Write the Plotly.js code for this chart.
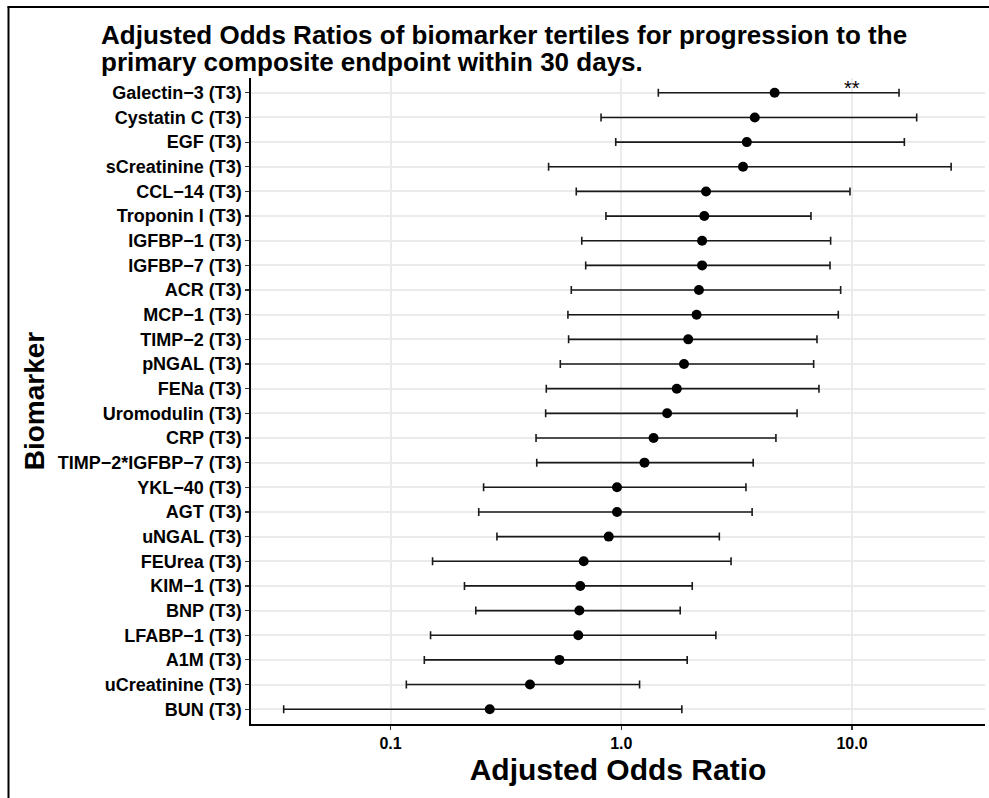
<!DOCTYPE html>
<html>
<head>
<meta charset="utf-8">
<script src="https://cdn.plot.ly/plotly-3.0.1.min.js"></script>
<style>
html,body{margin:0;padding:0;background:#fff;overflow:hidden;}
#chart{width:989px;height:798px;}
</style>
</head>
<body>
<div id="chart"></div>
<script>
// Biomarkers (top to bottom)
var biomarkers = [
  "Galectin\u22123 (T3)", "Cystatin C (T3)", "EGF (T3)", "sCreatinine (T3)", "CCL\u221214 (T3)",
  "Troponin I (T3)", "IGFBP\u22121 (T3)", "IGFBP\u22127 (T3)", "ACR (T3)", "MCP\u22121 (T3)",
  "TIMP\u22122 (T3)", "pNGAL (T3)", "FENa (T3)", "Uromodulin (T3)", "CRP (T3)",
  "TIMP\u22122*IGFBP\u22127 (T3)", "YKL\u221240 (T3)", "AGT (T3)", "uNGAL (T3)", "FEUrea (T3)",
  "KIM\u22121 (T3)", "BNP (T3)", "LFABP\u22121 (T3)", "A1M (T3)", "uCreatinine (T3)", "BUN (T3)"
];
// Adjusted odds ratios
var oddsRatio = [4.62, 3.79, 3.50, 3.37, 2.33, 2.29, 2.24, 2.24, 2.17, 2.12,
                 1.95, 1.87, 1.74, 1.58, 1.38, 1.26, 0.958, 0.958, 0.882, 0.687,
                 0.664, 0.658, 0.651, 0.539, 0.402, 0.269];
// Lower 95% CI
var ciLower = [1.447, 0.817, 0.946, 0.484, 0.638, 0.858, 0.674, 0.701, 0.607, 0.587,
               0.591, 0.544, 0.473, 0.470, 0.427, 0.430, 0.253, 0.241, 0.289, 0.152,
               0.209, 0.234, 0.149, 0.140, 0.117, 0.0344];
// Upper 95% CI
var ciUpper = [15.99, 19.07, 16.86, 26.9, 9.80, 6.64, 8.08, 8.03, 8.93, 8.72,
               7.05, 6.82, 7.19, 5.78, 4.68, 3.73, 3.47, 3.69, 2.66, 2.99,
               2.03, 1.80, 2.57, 1.93, 1.20, 1.83];
// Significance marker
var sigLabel = "**";
var sigBiomarker = "Galectin\u22123 (T3)";
var sigX = 10;
var refLine = 1;
var tickVals = [0.1, 1, 10];
var tickText = ["0.1", "1.0", "10.0"];
var titleLines = [
  "Adjusted Odds Ratios of biomarker tertiles for progression to the",
  "primary composite endpoint within 30 days."
];

var errPlus = oddsRatio.map(function(v, i){ return ciUpper[i] - v; });
var errMinus = oddsRatio.map(function(v, i){ return v - ciLower[i]; });

var FONT = "Liberation Sans, Arial, Helvetica, sans-serif";

var trace = {
  type: "scatter",
  mode: "markers",
  x: oddsRatio,
  y: biomarkers,
  marker: {color: "#000000", size: 10},
  error_x: {
    type: "data", symmetric: false,
    array: errPlus, arrayminus: errMinus,
    color: "#1a1a1a", thickness: 1.6, width: 4
  },
  hoverinfo: "x+y",
  showlegend: false
};

var L = 251, R = 985, T = 77.5, B = 724;
function px(x){ return (x - L) / (R - L); }
function py(y){ return (B - y) / (B - T); }

var annotations = [
  {x: Math.log10(sigX), y: sigBiomarker, xref: "x", yref: "y", text: sigLabel,
   showarrow: false, yshift: 5, font: {family: FONT, size: 20, color: "#000000"}}
];
var titleCenters = [34.5, 61];
titleLines.forEach(function(t, i){
  annotations.push({
    xref: "paper", yref: "paper", x: px(99), y: py(titleCenters[i]),
    xanchor: "left", yanchor: "middle", align: "left", showarrow: false,
    text: "<b>" + t + "</b>",
    font: {family: FONT, size: 26, color: "#000000"}
  });
});

var layout = {
  width: 989, height: 798,
  paper_bgcolor: "#ffffff",
  plot_bgcolor: "#ffffff",
  margin: {l: L, r: 989 - R, t: T, b: 798 - B, pad: 0},
  font: {family: FONT, color: "#000000"},
  xaxis: {
    type: "log",
    range: [(L - 621.3) / 230.7, (R - 621.3) / 230.7],
    tickvals: tickVals, ticktext: tickText,
    tickfont: {family: FONT, size: 16, color: "#000000", weight: "bold"},
    ticks: "outside", ticklen: 4, tickwidth: 1.2, tickcolor: "#333333",
    showline: true, linecolor: "#000000", linewidth: 1.6,
    showgrid: true, gridcolor: "#ebebeb", gridwidth: 2,
    zeroline: false,
    title: {text: "<b>Adjusted Odds Ratio</b>", font: {family: FONT, size: 30, color: "#000000"}, standoff: 8}
  },
  yaxis: {
    type: "category",
    categoryorder: "array", categoryarray: biomarkers,
    range: [biomarkers.length - 0.4, -0.6],
    tickfont: {family: FONT, size: 18, color: "#000000", weight: "bold"},
    ticks: "outside", ticklen: 4, tickwidth: 1.2, tickcolor: "#333333",
    showline: true, linecolor: "#000000", linewidth: 1.6,
    showgrid: true, gridcolor: "#ebebeb", gridwidth: 2,
    zeroline: false,
    title: {text: "<b>Biomarker</b>", font: {family: FONT, size: 28, color: "#000000"}, standoff: 5}
  },
  shapes: [
    {type: "line", xref: "x", yref: "paper", x0: Math.log10(refLine), x1: Math.log10(refLine), y0: 0, y1: 1,
     line: {color: "#333333", width: 1, dash: "4px,3px"}, layer: "between"},
    {type: "line", xref: "paper", yref: "paper", x0: px(8.5), x1: px(8.5), y0: py(6), y1: py(800),
     line: {color: "#000000", width: 2}},
    {type: "line", xref: "paper", yref: "paper", x0: px(7.5), x1: px(989), y0: py(6.5), y1: py(6.5),
     line: {color: "#000000", width: 2}}
  ],
  annotations: annotations
};

Plotly.newPlot("chart", [trace], layout, {displayModeBar: false, staticPlot: true});
</script>
</body>
</html>
